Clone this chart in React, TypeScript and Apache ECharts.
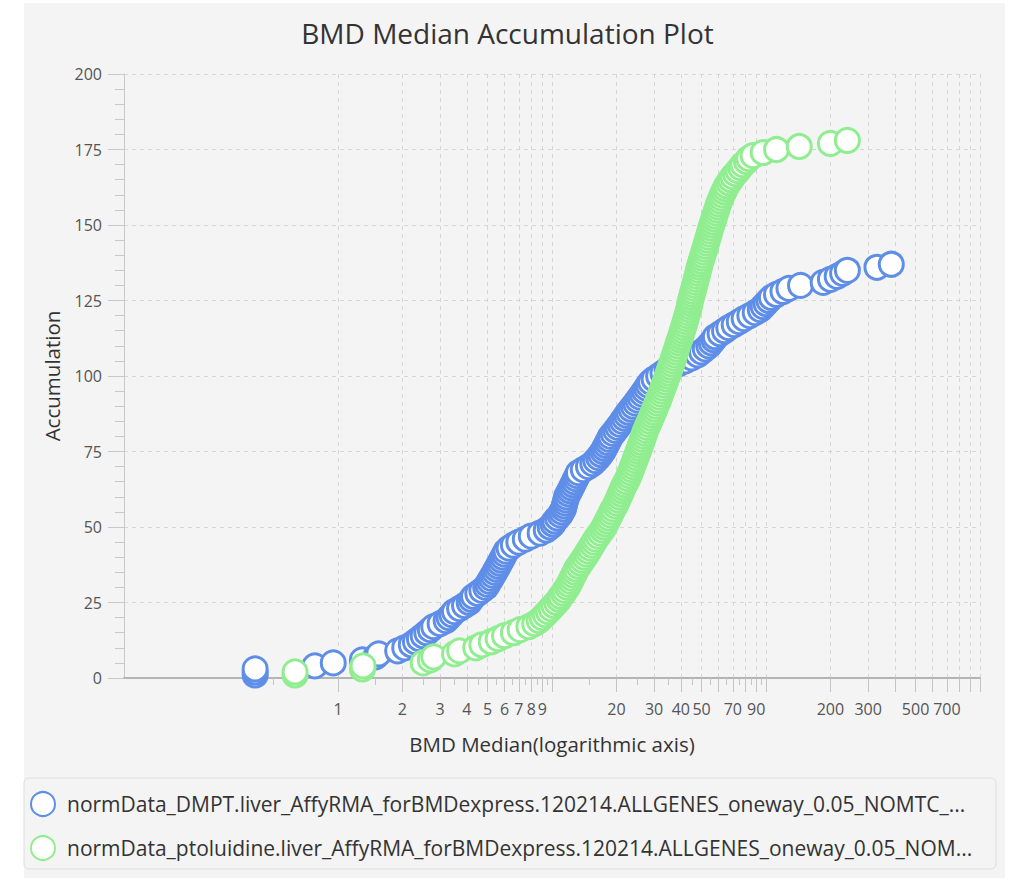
import React, { useEffect, useRef } from "react";
import * as echarts from "echarts";

const chartTitle = "BMD Median Accumulation Plot";
const xAxisName = "BMD Median(logarithmic axis)";
const yAxisName = "Accumulation";

const seriesNames = [
  "normData_DMPT.liver_AffyRMA_forBMDexpress.120214.ALLGENES_oneway_0.05_NOMTC_...",
  "normData_ptoluidine.liver_AffyRMA_forBMDexpress.120214.ALLGENES_oneway_0.05_NOM...",
];
const seriesColors = ["#5f8ee8", "#90ee90"];

// BMD median values, sorted; accumulation = running count
const dmptBmd = [
  0.41, 0.41, 0.41, 0.78, 0.95, 1.3, 1.5, 1.55, 1.9, 2.05,
  2.2, 2.3, 2.4, 2.5, 2.6, 2.7, 2.8, 3.0, 3.2, 3.3,
  3.4, 3.5, 3.7, 3.9, 4.1, 4.2, 4.3, 4.5, 4.7, 4.9,
  5.0, 5.1, 5.2, 5.3, 5.4, 5.5, 5.6, 5.7, 5.8, 5.9,
  6.0, 6.1, 6.3, 6.6, 7.0, 7.5, 8.0, 8.8, 9.4, 9.8,
  10.1, 10.3, 10.6, 10.9, 11.1, 11.3, 11.4, 11.5, 11.6, 11.7,
  11.9, 12.1, 12.3, 12.5, 12.7, 12.9, 13.1, 13.3, 14.0, 14.8,
  15.5, 16.0, 16.5, 16.9, 17.3, 17.6, 17.9, 18.2, 18.5, 18.8,
  19.3, 19.8, 20.3, 20.8, 21.3, 21.8, 22.3, 22.8, 23.4, 24.0,
  24.6, 25.2, 25.8, 26.4, 27.0, 27.6, 28.2, 28.9, 30.0, 31.5,
  33.0, 34.5, 36.0, 39, 42, 45, 48, 50, 52, 54,
  55.5, 57, 58, 61, 64, 67, 71, 75, 79, 84,
  89, 94, 97, 100, 103, 106, 112, 120, 128, 145,
  185, 200, 215, 228, 240, 330, 385,
];

const ptoluidineBmd = [
  0.63, 0.63, 1.3, 1.31, 2.5, 2.7, 2.8, 3.5, 3.7, 4.4,
  4.7, 5.2, 5.6, 6.0, 6.6, 7.1, 7.8, 8.3, 8.7, 9.0,
  9.3, 9.6, 9.9, 10.2, 10.5, 10.8, 11.0, 11.3, 11.5, 11.8,
  12.0, 12.2, 12.4, 12.6, 12.8, 13.0, 13.3, 13.6, 13.9, 14.2,
  14.5, 14.8, 15.1, 15.4, 15.7, 16.0, 16.4, 16.8, 17.2, 17.5,
  17.8, 18.1, 18.4, 18.7, 19.0, 19.3, 19.7, 20.0, 20.3, 20.6,
  20.9, 21.2, 21.5, 21.8, 22.2, 22.6, 22.9, 23.2, 23.5, 23.8,
  24.1, 24.4, 24.7, 25.0, 25.3, 25.6, 25.9, 26.2, 26.5, 26.8,
  27.1, 27.4, 27.8, 28.2, 28.6, 29.0, 29.4, 29.8, 30.2, 30.6,
  31.0, 31.4, 31.8, 32.2, 32.6, 33.0, 33.4, 33.8, 34.2, 34.6,
  35.0, 35.4, 35.8, 36.2, 36.6, 37.0, 37.4, 37.8, 38.2, 38.6,
  39.0, 39.5, 39.9, 40.3, 40.7, 41.1, 41.5, 41.9, 42.3, 42.7,
  43.1, 43.5, 43.8, 44.1, 44.4, 44.8, 45.2, 45.6, 46.0, 46.4,
  46.8, 47.2, 47.6, 48.0, 48.4, 48.8, 49.2, 49.7, 50.2, 50.7,
  51.2, 51.7, 52.2, 52.7, 53.2, 53.7, 54.2, 54.7, 55.2, 55.8,
  56.4, 57.0, 57.6, 58.2, 58.8, 59.4, 60.0, 60.8, 61.6, 62.5,
  63.5, 64.5, 65.5, 67.0, 68.5, 70, 72, 74, 76, 78,
  81, 83, 87, 97, 112, 143, 200, 240,
];

const xMajorTicks = [
  1, 2, 3, 4, 5, 6, 7, 8, 9, 10,
  20, 30, 40, 50, 60, 70, 80, 90, 100,
  200, 300, 400, 500, 600, 700, 800, 900, 1000,
];
const xMinorTicks = [
  0.5, 1.5, 2.5, 3.5, 4.5, 5.5, 6.5, 7.5, 8.5, 9.5,
  15, 25, 35, 45, 55, 65, 75, 85, 95,
];
const xTickLabels = [1, 2, 3, 4, 5, 6, 7, 8, 9, 20, 30, 40, 50, 70, 90, 200, 300, 500, 700];

const FONT = "'Open Sans', 'DejaVu Sans', sans-serif";

export default function App() {
  const ref = useRef<HTMLDivElement>(null);
  useEffect(() => {
    if (!ref.current) return;
    const chart = echarts.init(ref.current, null, { renderer: "svg" });
    const mk = (arr: number[]) => arr.map((v, i) => [v, i + 1]);
    chart.setOption({
      animation: false,
      backgroundColor: "#ffffff",
      textStyle: { fontFamily: FONT },
      graphic: [
        {
          type: "rect",
          z: -10,
          silent: true,
          shape: { x: 24, y: 3, width: 981, height: 875 },
          style: { fill: "#f4f4f4" },
        },
        {
          type: "rect",
          z: -9,
          silent: true,
          shape: { x: 24, y: 778, width: 972, height: 91, r: 5 },
          style: { fill: "#f4f4f4", stroke: "#dedede", lineWidth: 1 },
        },
      ],
      title: {
        text: chartTitle,
        left: "center",
        top: 14,
        textStyle: { fontFamily: FONT, fontSize: 28, fontWeight: "normal", color: "#333" },
      },
      legend: {
        orient: "vertical",
        left: 30,
        top: 791,
        padding: 0,
        icon: "circle",
        itemWidth: 24,
        itemHeight: 24,
        itemGap: 18,
        data: seriesNames,
        textStyle: { fontFamily: FONT, fontSize: 21, lineHeight: 24, color: "#333", padding: [0, 0, 0, 7] },
      },
      grid: { left: 124, right: 35, top: 74, bottom: 203, containLabel: false },
      xAxis: [
        {
          type: "log",
          logBase: 10,
          min: 0.1,
          max: 1000,
          name: xAxisName,
          nameLocation: "middle",
          nameGap: 55,
          nameTextStyle: { fontFamily: FONT, fontSize: 20.5, color: "#333" },
          axisLine: { show: true, lineStyle: { color: "#b4b4b4", width: 2 } },
          axisTick: { show: true, length: 14, customValues: xMajorTicks, lineStyle: { color: "#c4c4c4" } },
          axisLabel: {
            customValues: xTickLabels,
            margin: 23,
            fontFamily: FONT,
            fontSize: 16,
            color: "#555",
            formatter: (v: number) => String(v),
          },
          splitLine: { show: true, lineStyle: { color: "#d6d6d6", type: [4, 4] } },
        },
        {
          type: "log",
          logBase: 10,
          min: 0.1,
          max: 1000,
          position: "bottom",
          axisLine: { show: false },
          axisTick: { show: true, length: 7, customValues: xMinorTicks, lineStyle: { color: "#c4c4c4" } },
          axisLabel: { show: false },
          splitLine: { show: false },
        },
      ],
      yAxis: {
        type: "value",
        min: 0,
        max: 200,
        interval: 25,
        name: yAxisName,
        nameLocation: "middle",
        nameGap: 62,
        nameTextStyle: { fontFamily: FONT, fontSize: 20.5, color: "#333" },
        axisLine: { show: true, lineStyle: { color: "#c8c8c8", width: 1 } },
        axisTick: { show: true, length: 16, lineStyle: { color: "#c8c8c8" } },
        minorTick: { show: true, splitNumber: 5, length: 9, lineStyle: { color: "#c8c8c8" } },
        axisLabel: { margin: 22, fontFamily: FONT, fontSize: 16, color: "#555" },
        splitLine: { show: true, lineStyle: { color: "#d6d6d6", type: [4, 4] } },
      },
      series: [
        {
          name: seriesNames[0],
          type: "scatter",
          xAxisIndex: 0,
          data: mk(dmptBmd),
          symbol: "circle",
          symbolSize: 24,
          itemStyle: { color: "#ffffff", borderColor: seriesColors[0], borderWidth: 3, opacity: 1 },
        },
        {
          name: seriesNames[1],
          type: "scatter",
          xAxisIndex: 0,
          data: mk(ptoluidineBmd),
          symbol: "circle",
          symbolSize: 24,
          itemStyle: { color: "#ffffff", borderColor: seriesColors[1], borderWidth: 3, opacity: 1 },
        },
      ],
    });
    return () => chart.dispose();
  }, []);
  return (
    <div
      ref={ref}
      style={{ position: "fixed", left: 0, top: 0, width: 1015, height: 881 }}
    />
  );
}
